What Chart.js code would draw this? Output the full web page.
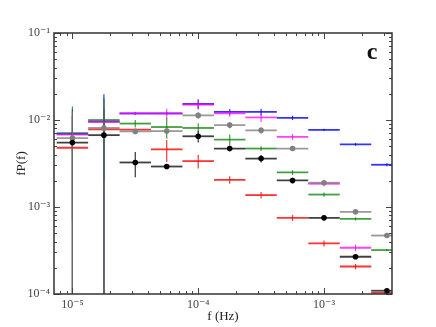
<!DOCTYPE html>
<html>
<head>
<meta charset="utf-8">
<script src="https://cdn.jsdelivr.net/npm/chart.js@4.4.0/dist/chart.umd.min.js"></script>
<style>
  html, body { margin: 0; padding: 0; background: #fff; }
  #wrap { width: 436px; height: 327px; }
</style>
</head>
<body>
<div id="wrap"><canvas id="psd" width="436" height="327"></canvas></div>
<script>
// frequency bin centres (Hz); each bin spans +/- binHalfDex in log10
const freqs = [1.0e-5, 1.78e-5, 3.16e-5, 5.62e-5, 1.0e-4, 1.78e-4, 3.16e-4, 5.62e-4, 1.0e-3, 1.78e-3, 3.16e-3];
const binHalfDex = 0.125;
const xTicks = [1e-5, 1e-4, 1e-3];
const yTicks = [1e-4, 1e-3, 1e-2, 1e-1];

const blueVals = [7.0e-3, 9.6e-3, 1.19e-2, 1.19e-2, 1.53e-2, 1.24e-2, 1.24e-2, 1.06e-2, 7.7e-3, 5.25e-3, 3.06e-3];
const blueErr = [6.3e-3, 1.02e-2, 0.4e-3, 0.5e-3, 2.0e-3, 1.0e-3, 1.1e-3, 0.6e-3, 0.25e-3, 0.2e-3, 0.12e-3];
const magentaVals = [6.8e-3, 9.5e-3, 1.19e-2, 1.19e-2, 1.50e-2, 1.19e-2, 1.07e-2, 6.4e-3, 1.85e-3, 3.4e-4, null];
const magentaErr = [0.3e-3, 0.4e-3, 0.5e-3, 1.6e-3, 1.5e-3, 1.0e-3, 1.2e-3, 0.5e-3, 0.12e-3, 0.03e-3, 0];
const greenVals = [6.95e-3, 1.0e-2, 9.1e-3, 8.3e-3, 8.1e-3, 5.95e-3, 4.7e-3, 2.5e-3, 1.39e-3, 7.3e-4, 3.2e-4];
const greenErr = [7.4e-3, 8.0e-3, 0.9e-3, 2.2e-3, 1.1e-3, 0.85e-3, 0.3e-3, 0.15e-3, 0.08e-3, 0.03e-3, 0.01e-3];
const redVals = [4.8e-3, 7.8e-3, 7.75e-3, 4.6e-3, 3.37e-3, 2.05e-3, 1.37e-3, 7.5e-4, 3.82e-4, 2.07e-4, 1.03e-4];
const redErr = [0.1e-3, 0.2e-3, 0.2e-3, 1.3e-3, 0.6e-3, 0.2e-3, 0.12e-3, 0.06e-3, 0.03e-3, 0.015e-3, 0.005e-3];
const blackVals = [5.5e-3, 6.7e-3, 3.25e-3, 2.92e-3, 6.5e-3, 4.7e-3, 3.6e-3, 2.02e-3, 7.5e-4, 2.68e-4, 1.09e-4];
const blackErr = [5.6e-3, 6.8e-3, 1.05e-3, 0.1e-3, 1.0e-3, 0.35e-3, 0.35e-3, 0.15e-3, 0.03e-3, 0.015e-3, 0.005e-3];
const grayVals = [6.2e-3, 8.1e-3, 7.4e-3, 7.45e-3, 1.13e-2, 8.75e-3, 7.6e-3, 4.7e-3, 1.9e-3, 8.8e-4, 4.7e-4];
const grayErr = [6.3e-3, 8.5e-3, 0.3e-3, 0.5e-3, 0.9e-3, 0.7e-3, 0.6e-3, 0.3e-3, 0.1e-3, 0.03e-3, 0.015e-3];

const serif = "'Liberation Serif', 'DejaVu Serif', serif";

function points(vals, errs) {
  return freqs.map((f, i) => ({ x: f, y: vals[i], err: errs[i] }));
}

function series(label, vals, errs, color, errColor, dot) {
  return {
    label: label,
    data: points(vals, errs),
    barColor: color,
    errColor: errColor || color,
    showLine: false,
    pointRadius: dot ? 2.8 : 0,
    pointBackgroundColor: dot ? dot : color,
    pointBorderWidth: 0,
  };
}

const SUP = { "-": "\u207B", "0": "\u2070", "1": "\u00B9", "2": "\u00B2", "3": "\u00B3", "4": "\u2074", "5": "\u2075" };
function expLabel(v) {
  const e = Math.round(Math.log10(v));
  return "10" + String(e).split("").map((c) => SUP[c]).join("");
}

// horizontal bin bars + vertical error bars, drawn under the dots
const errorBars = {
  id: "errorBars",
  beforeDatasetsDraw(chart) {
    const { ctx, chartArea: a, scales } = chart;
    const x = scales.x, y = scales.y;
    const k = Math.pow(10, binHalfDex);
    ctx.save();
    ctx.beginPath();
    ctx.rect(a.left, a.top, a.right - a.left, a.bottom - a.top);
    ctx.clip();
    chart.data.datasets.forEach((ds) => {
      ds.data.forEach((p) => {
        if (p.y == null) return;
        const px = x.getPixelForValue(p.x);
        const py = y.getPixelForValue(p.y);
        ctx.strokeStyle = ds.barColor;
        ctx.lineWidth = 1.8;
        ctx.beginPath();
        ctx.moveTo(x.getPixelForValue(p.x / k), py);
        ctx.lineTo(x.getPixelForValue(p.x * k), py);
        ctx.stroke();
        const lo = p.y - p.err;
        ctx.strokeStyle = ds.errColor;
        ctx.lineWidth = 1.2;
        ctx.beginPath();
        ctx.moveTo(px, y.getPixelForValue(p.y + p.err));
        ctx.lineTo(px, lo > 0 ? y.getPixelForValue(lo) : a.bottom + 2);
        ctx.stroke();
      });
    });
    ctx.restore();
  },
  afterDraw(chart) {
    const { ctx, chartArea: a, scales } = chart;
    ctx.save();
    ctx.strokeStyle = "#444";
    ctx.lineWidth = 1;
    // inward tick marks on all four sides
    const marks = (scale, horizontal) => {
      const lo = Math.floor(Math.log10(scale.min));
      const hi = Math.ceil(Math.log10(scale.max));
      for (let d = lo; d <= hi; d++) {
        for (let m = 1; m <= 9; m++) {
          const v = m * Math.pow(10, d);
          if (v < scale.min * 0.999 || v > scale.max * 1.001) continue;
          const p = Math.round(scale.getPixelForValue(v)) + 0.5;
          const len = m === 1 ? 6 : 3;
          ctx.beginPath();
          if (horizontal) {
            ctx.moveTo(p, a.bottom); ctx.lineTo(p, a.bottom - len);
            ctx.moveTo(p, a.top); ctx.lineTo(p, a.top + len);
          } else {
            ctx.moveTo(a.left, p); ctx.lineTo(a.left + len, p);
            ctx.moveTo(a.right, p); ctx.lineTo(a.right - len, p);
          }
          ctx.stroke();
        }
      }
    };
    marks(scales.x, true);
    marks(scales.y, false);
    ctx.strokeStyle = "#333";
    ctx.lineWidth = 1.5;
    ctx.strokeRect(a.left, a.top, a.right - a.left, a.bottom - a.top);

    // y axis title
    ctx.fillStyle = "#222";
    ctx.font = "13px " + serif;
    ctx.textAlign = "center";
    ctx.textBaseline = "middle";
    ctx.translate(22, (a.top + a.bottom) / 2);
    ctx.rotate(-Math.PI / 2);
    ctx.fillText("fP(f)", 0, 0);
    ctx.setTransform(1, 0, 0, 1, 0, 0);

    // panel letter
    ctx.fillStyle = "#111";
    ctx.font = "bold 24px " + serif;
    ctx.textBaseline = "alphabetic";
    ctx.fillText("c", 372, 59);
    ctx.restore();
  },
};

new Chart(document.getElementById("psd"), {
  type: "scatter",
  data: {
    datasets: [
      series("blue", blueVals, blueErr, "rgba(0,0,255,0.8)"),
      series("green", greenVals, greenErr, "rgba(0,128,0,0.75)"),
      series("magenta", magentaVals, magentaErr, "rgba(255,0,255,0.75)"),
      series("red", redVals, redErr, "rgba(255,0,0,0.8)"),
      series("black", blackVals, blackErr, "rgba(0,0,0,0.75)", "#333", "#000"),
      series("gray", grayVals, grayErr, "rgba(128,128,128,0.8)", "#6a6a6a", "#808080"),
    ],
  },
  options: {
    responsive: false,
    animation: false,
    layout: { padding: { left: 0, top: 33, right: 44, bottom: 0 } },
    plugins: { legend: { display: false }, tooltip: { enabled: false } },
    scales: {
      x: {
        type: "logarithmic",
        min: 7.14e-6,
        max: 3.47e-3,
        afterBuildTicks: (s) => { s.ticks = xTicks.map((v) => ({ value: v })); },
        afterFit: (s) => { s.height = 33; },
        grid: { display: false, drawTicks: false },
        border: { display: false },
        ticks: { callback: expLabel, autoSkip: false, maxRotation: 0, padding: 4, color: "#444", font: { family: serif, size: 12 } },
        title: { display: true, text: "f (Hz)", color: "#222", padding: { top: 0, bottom: 3 }, font: { family: serif, size: 13 } },
      },
      y: {
        type: "logarithmic",
        min: 1e-4,
        max: 1e-1,
        afterBuildTicks: (s) => { s.ticks = yTicks.map((v) => ({ value: v })); },
        afterFit: (s) => { s.width = 54; },
        grid: { display: false, drawTicks: false },
        border: { display: false },
        ticks: { callback: expLabel, autoSkip: false, padding: 4, color: "#444", font: { family: serif, size: 12 } },
      },
    },
  },
  plugins: [errorBars],
});
</script>
</body>
</html>
